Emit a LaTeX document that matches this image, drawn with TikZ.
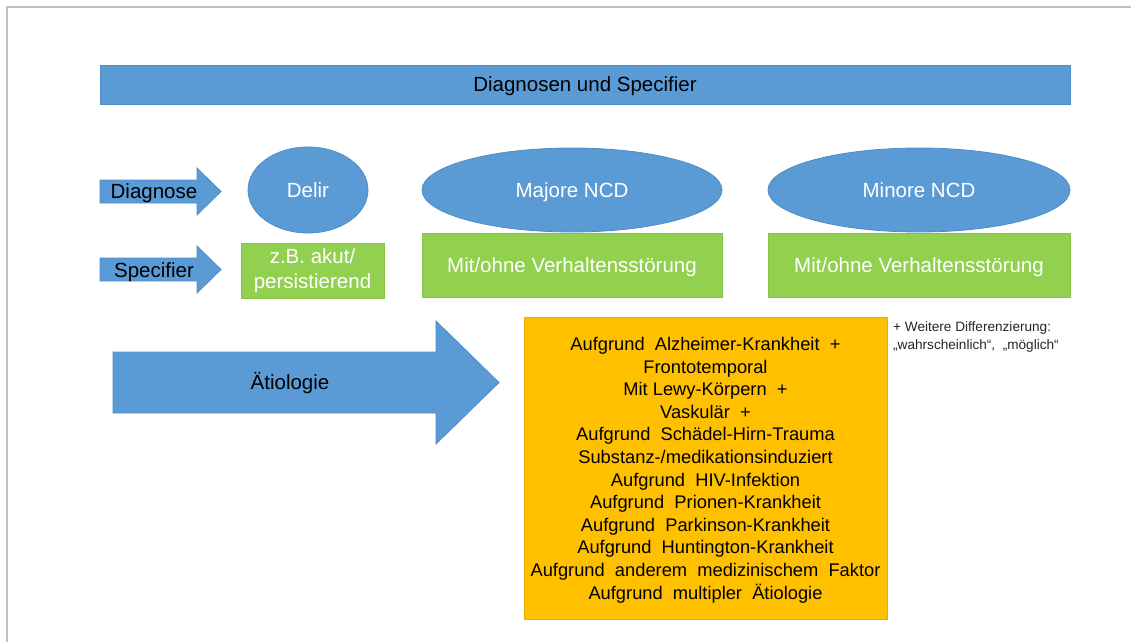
\documentclass[tikz,border=0pt]{standalone}
\usepackage{fontspec}
\setmainfont{Liberation Sans}
\usetikzlibrary{shapes.geometric}
\definecolor{pblue}{HTML}{5B9BD5}
\definecolor{pblueline}{HTML}{4F8CC6}
\definecolor{pgreen}{HTML}{92D050}
\definecolor{pgreenline}{HTML}{86C244}
\definecolor{porange}{HTML}{FFC000}
\definecolor{porangeline}{HTML}{E8AE00}
\definecolor{frame}{HTML}{C0C0C0}
\tikzset{
  bigfont/.style={font=\fontsize{20.5}{24}\selectfont},
  oneline/.style={text height=18.9pt, text depth=4.1pt},
  bluefill/.style={fill=pblue, draw=pblueline, line width=0.8pt},
  blueell/.style={ellipse, bluefill, inner sep=0pt, text=white, bigfont, oneline},
  greenbox/.style={rectangle, fill=pgreen, draw=pgreenline, line width=0.8pt, inner sep=0pt, text=white, bigfont, align=center},
  arrowlabel/.style={text=black, bigfont, inner sep=0pt, oneline},
}
\begin{document}
\begin{tikzpicture}[x=1pt,y=-1pt]
\useasboundingbox (0,0) rectangle (1131,642);
\fill[white] (0,0) rectangle (1131,642);
% frame
\draw[frame, line width=2pt] (7,642) -- (7,7) -- (1131,7);

% banner
\node[rectangle, bluefill, minimum width=970pt, minimum height=39pt, inner sep=0pt, text=black, bigfont, oneline] (banner) at (585,84.5) {Diagnosen und Specifier};

% Diagnose arrow
\path[bluefill] (100,180) -- (197,180) -- (197,168) -- (221,191.5) -- (197,215) -- (197,203) -- (100,203) -- cycle;
\node[arrowlabel] (diag) at (154,191) {Diagnose};

% Specifier arrow
\path[bluefill] (100,258) -- (197,258) -- (197,246) -- (221,269.5) -- (197,293) -- (197,281) -- (100,281) -- cycle;
\node[arrowlabel] (spec) at (154,270) {Specifier};

% Aetiologie arrow
\path[bluefill] (113,352) -- (436,352) -- (436,321) -- (499,382.5) -- (436,444) -- (436,413) -- (113,413) -- cycle;
\node[arrowlabel] (aet) at (290,382) {Ätiologie};

% ellipses
\node[blueell, minimum width=120pt, minimum height=86pt] (delir) at (308,190) {Delir};
\node[blueell, minimum width=300pt, minimum height=84pt] (major) at (572,190) {Majore NCD};
\node[blueell, minimum width=302pt, minimum height=84pt] (minor) at (919,190) {Minore NCD};

% green boxes
\node[greenbox, minimum width=143pt, minimum height=55pt, font=\fontsize{20.5}{25}\selectfont] (gdelir) at (312.5,270.5) {z.B. akut/\\persistierend};
\node[greenbox, oneline, minimum width=300pt, minimum height=64pt] (gmajor) at (572,265) {Mit/ohne Verhaltensstörung};
\node[greenbox, oneline, minimum width=302pt, minimum height=64pt] (gminor) at (919,265) {Mit/ohne Verhaltensstörung};

% orange box
\node[rectangle, fill=porange, draw=porangeline, line width=0.8pt, minimum width=363pt, minimum height=302pt, inner sep=0pt] (causes) at (705.5,468) {};
\node[align=center, inner sep=0pt, font=\fontsize{18.3}{22.6}\selectfont] (causetext) at (705.5,470) {%
Aufgrund\ \ Alzheimer-Krankheit\ \ +\\
Frontotemporal\\
Mit Lewy-Körpern\ \ +\\
Vaskulär\ \ +\\
Aufgrund\ \ Schädel-Hirn-Trauma\\
Substanz-/medikationsinduziert\\
Aufgrund\ \ HIV-Infektion\\
Aufgrund\ \ Prionen-Krankheit\\
Aufgrund\ \ Parkinson-Krankheit\\
Aufgrund\ \ Huntington-Krankheit\\
Aufgrund\ \ anderem\ \ medizinischem\ \ Faktor\\
Aufgrund\ \ multipler\ \ Ätiologie};

% note
\node[anchor=north west, inner sep=0pt, align=left, text=black!85, font=\fontsize{13.6}{18}\selectfont] (note) at (893,321) {+ Weitere Differenzierung:\\„wahrscheinlich“,\ \ „möglich“};
\end{tikzpicture}
\end{document}
